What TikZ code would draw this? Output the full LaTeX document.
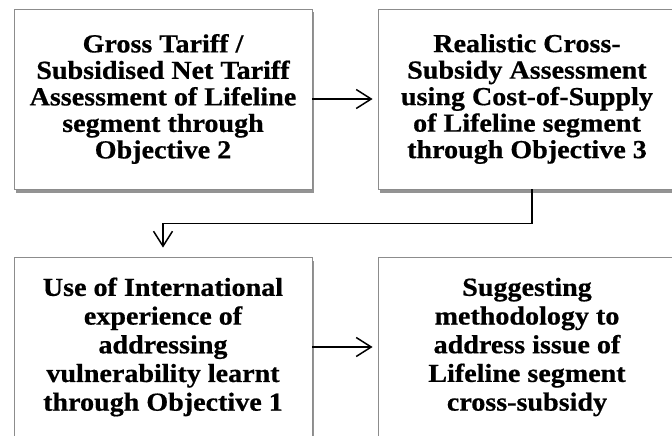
\documentclass[tikz,border=0pt]{standalone}
\usepackage{fontspec}
\newfontfamily\boxfont[FakeStretch=1.08,FakeBold=0.6]{Liberation Serif}
\usetikzlibrary{arrows.meta,shadows}
\begin{document}
\begin{tikzpicture}[x=1pt,y=-1pt,
  stagebox/.style={draw=black!45,line width=0.8pt,fill=white,
    minimum width=298pt,minimum height=180pt,inner sep=0pt,
    align=center,font=\boxfont\bfseries\fontsize{26}{26.5}\selectfont,
    drop shadow={shadow xshift=1.5pt,shadow yshift=-3.5pt,fill=black!60,opacity=0.7}},
  flow/.style={line width=1.6pt,
    -{Straight Barb[length=15pt,width=19pt,line width=1.5pt]}}]
\useasboundingbox (0,0) rectangle (672,436);
\fill[white] (0,0) rectangle (672,436);

\node[stagebox] (tl) at (163,99)
  {Gross Tariff /\\Subsidised Net Tariff\\Assessment of Lifeline\\segment through\\Objective 2};
\node[stagebox] (tr) at (527,99)
  {Realistic Cross-\\Subsidy Assessment\\using Cost-of-Supply\\of Lifeline segment\\through Objective 3};
\node[stagebox,font=\boxfont\bfseries\fontsize{26}{28.7}\selectfont] (bl) at (163,347)
  {Use of International\\experience of\\addressing\\vulnerability learnt\\through Objective 1};
\node[stagebox,font=\boxfont\bfseries\fontsize{26}{28.7}\selectfont] (br) at (527,347)
  {Suggesting\\methodology to\\address issue of\\Lifeline segment\\cross-subsidy};

\draw[flow,shorten >=5pt] (tl.east) -- (tr.west);
\draw[flow,shorten >=9pt] ([xshift=5pt]tr.south) -- ++(0,34) -| (bl.north);
\draw[flow,shorten >=5pt] (bl.east) -- (br.west);
\end{tikzpicture}
\end{document}
